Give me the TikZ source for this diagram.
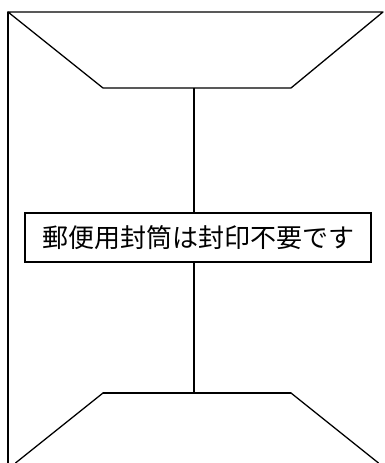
\documentclass[tikz,border=0pt]{standalone}
\usepackage{fontspec}
\newfontfamily\cjk{Noto Sans CJK JP}
\usepackage{tikz}
\usetikzlibrary{calc, positioning}
\usepackage{tkz-euclide}

\begin{document}
\begin{tikzpicture}[x=1pt, y=1pt, line width=1.3pt]
\useasboundingbox (0,0) rectangle (384,463);
    \tkzDefPoints{8/451/A, 383/451/B, 291/375/C, 103/375/D, 8/0/L}
\tkzDefPoints{103/70/E, 291/70/F, 15.5/0/G, 378.5/0/H, 194/375/S, 194/70/T}
\tkzDrawPolygon[line width=1.3pt](A,B,C,D)
\tkzDrawSegments[line width=1.3pt](A,L E,F E,G F,H)
\node[draw, line width=1.3pt, minimum width=346pt, minimum height=49pt, inner sep=0pt,
      font=\cjk\fontsize{26}{30}\selectfont] (notice) at (198,225.5) {郵便用封筒は封印不要です};
\draw (S) -- (S |- notice.north);
\draw (T) -- (T |- notice.south);
  \end{tikzpicture}
\end{document}
